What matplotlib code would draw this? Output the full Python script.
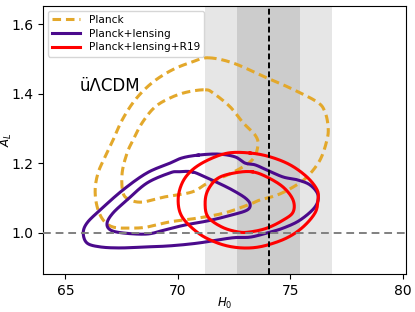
import numpy as np
import matplotlib
matplotlib.use("Agg")
import matplotlib.pyplot as plt

# R19 local H0 measurement (mean, 1 sigma)
r19_mean = 74.03
r19_sigma = 1.42

# contour outlines: (H0, A_L)
planck_95_h0 = [71.34, 72.45, 73.96, 74.99, 76.19, 76.54, 76.68, 76.63, 76.32, 75.74,
                75.12, 74.41, 73.65, 73.21, 72.10, 70.90, 69.65, 68.63, 67.88, 67.12,
                66.68, 66.41, 66.32, 66.45, 66.76, 67.12, 67.52, 68.10, 68.85, 69.74, 70.63]
planck_95_al = [1.504, 1.489, 1.446, 1.417, 1.377, 1.348, 1.305, 1.268, 1.210, 1.161,
                1.132, 1.109, 1.095, 1.083, 1.058, 1.043, 1.032, 1.017, 1.014, 1.017,
                1.037, 1.075, 1.124, 1.173, 1.219, 1.268, 1.325, 1.383, 1.432, 1.469, 1.492]

planck_68_h0 = [71.21, 71.56, 72.32, 72.90, 73.43, 73.56, 73.30, 72.41, 71.34, 70.63,
                69.43, 68.45, 67.88, 67.56, 67.52, 67.74, 68.01, 68.41, 68.99, 69.74, 70.45]
planck_68_al = [1.412, 1.403, 1.363, 1.317, 1.282, 1.253, 1.210, 1.173, 1.144, 1.118,
                1.104, 1.089, 1.095, 1.115, 1.173, 1.230, 1.268, 1.317, 1.363, 1.391, 1.406]

lens_95_h0 = [70.90, 71.79, 72.54, 72.99, 73.43, 73.96, 74.68, 75.30, 75.88, 76.23,
              76.10, 75.43, 74.68, 73.96, 73.21, 72.41, 70.90, 69.65, 68.63, 67.43,
              66.54, 65.96, 65.79, 65.96, 66.54, 67.56, 68.63, 69.65, 70.19]
lens_95_al = [1.224, 1.227, 1.219, 1.201, 1.196, 1.181, 1.161, 1.153, 1.138, 1.109,
              1.075, 1.037, 1.014, 1.000, 0.988, 0.986, 0.971, 0.963, 0.960, 0.957,
              0.960, 0.971, 1.000, 1.029, 1.066, 1.124, 1.173, 1.201, 1.216]

lens_68_h0 = [70.63, 71.21, 71.79, 72.41, 72.99, 73.21, 73.08, 72.41, 71.34, 70.32,
              69.43, 68.63, 67.56, 66.99, 66.85, 67.12, 67.74, 68.63, 69.65, 70.01]
lens_68_al = [1.176, 1.161, 1.144, 1.124, 1.101, 1.083, 1.066, 1.052, 1.035, 1.023,
              1.009, 0.997, 1.000, 1.009, 1.029, 1.058, 1.095, 1.144, 1.173, 1.176]

r19_95_h0 = [73.21, 74.10, 74.99, 75.74, 76.19, 76.23, 76.10, 75.56, 74.85, 73.96,
             73.21, 72.41, 71.65, 70.90, 70.19, 70.01, 70.19, 70.63, 71.34, 72.23]
r19_95_al = [1.230, 1.219, 1.196, 1.161, 1.124, 1.095, 1.058, 1.017, 0.986, 0.965,
             0.957, 0.960, 0.974, 1.000, 1.046, 1.095, 1.144, 1.181, 1.210, 1.230]

r19_68_h0 = [73.30, 73.96, 74.68, 75.12, 75.12, 74.68, 73.96, 73.21, 72.68, 71.96,
             71.34, 71.21, 71.34, 71.79, 72.54]
r19_68_al = [1.176, 1.161, 1.132, 1.095, 1.060, 1.037, 1.014, 1.003, 1.003, 1.017,
             1.046, 1.086, 1.124, 1.158, 1.173]

labels = ["Planck", "Planck+lensing", "Planck+lensing+R19"]
x_ticks = [65, 70, 75, 80]
y_ticks = [1.0, 1.2, 1.4, 1.6]


def closed_curve(xs, ys, n=16):
    # smooth closed Catmull-Rom curve through the outline points
    p = np.column_stack([xs, ys])
    m = len(p)
    t = np.linspace(0, 1, n, endpoint=False)[:, None]
    out = []
    for i in range(m):
        p0, p1, p2, p3 = p[i - 1], p[i], p[(i + 1) % m], p[(i + 2) % m]
        seg = 0.5 * (2 * p1 + (-p0 + p2) * t
                     + (2 * p0 - 5 * p1 + 4 * p2 - p3) * t ** 2
                     + (-p0 + 3 * p1 - 3 * p2 + p3) * t ** 3)
        out.append(seg)
    out = np.vstack(out + [p[:1]])
    return out[:, 0], out[:, 1]


c_planck = "#E3A82B"
c_lens = "#4B0A8C"
c_r19 = "#FF0000"
lw = 2.2

fig = plt.figure(figsize=(4.15, 3.12), dpi=100)
ax = fig.add_axes([0.1036, 0.1218, 0.874, 0.859])

ax.axvspan(r19_mean - 2 * r19_sigma, r19_mean + 2 * r19_sigma, color="#e6e6e6", lw=0, zorder=0)
ax.axvspan(r19_mean - r19_sigma, r19_mean + r19_sigma, color="#cccccc", lw=0, zorder=0.5)

dash = (0, (2.8, 1.6))
for xs, ys in [(planck_95_h0, planck_95_al), (planck_68_h0, planck_68_al)]:
    cx, cy = closed_curve(xs, ys)
    ax.plot(cx, cy, color=c_planck, lw=lw, ls=dash, zorder=2)
for xs, ys in [(lens_95_h0, lens_95_al), (lens_68_h0, lens_68_al)]:
    cx, cy = closed_curve(xs, ys)
    ax.plot(cx, cy, color=c_lens, lw=lw, zorder=3)
for xs, ys in [(r19_95_h0, r19_95_al), (r19_68_h0, r19_68_al)]:
    cx, cy = closed_curve(xs, ys)
    ax.plot(cx, cy, color=c_r19, lw=lw, zorder=4)

ax.axhline(1.0, color="gray", lw=1.4, ls=(0, (4, 2.5)), zorder=5)
ax.axvline(r19_mean, color="black", lw=1.4, ls=(0, (3, 1.6)), zorder=6)

handles = [
    plt.Line2D([], [], color=c_planck, lw=lw, ls=dash),
    plt.Line2D([], [], color=c_lens, lw=lw),
    plt.Line2D([], [], color=c_r19, lw=lw),
]
ax.legend(handles, labels, loc="upper left", fontsize=7.6, handlelength=2.7,
          borderaxespad=0.45, labelspacing=0.35, handletextpad=0.8)

ax.text(65.65, 1.409, "üΛCDM", fontsize=12, va="baseline", ha="left")

ax.set_xlim(64.0, 80.13)
ax.set_ylim(0.882, 1.653)
ax.set_xticks(x_ticks)
ax.set_yticks(y_ticks)
ax.set_yticklabels([f"{v:.1f}" for v in y_ticks])
ax.tick_params(labelsize=10)
ax.set_xlabel(r"$H_0$", fontsize=8.5)
ax.set_ylabel(r"$A_L$", fontsize=8.5)
ax.xaxis.set_label_coords(0.5, -0.083)
ax.yaxis.set_label_coords(-0.08, 0.5)

fig.savefig("out.png", dpi=100)
